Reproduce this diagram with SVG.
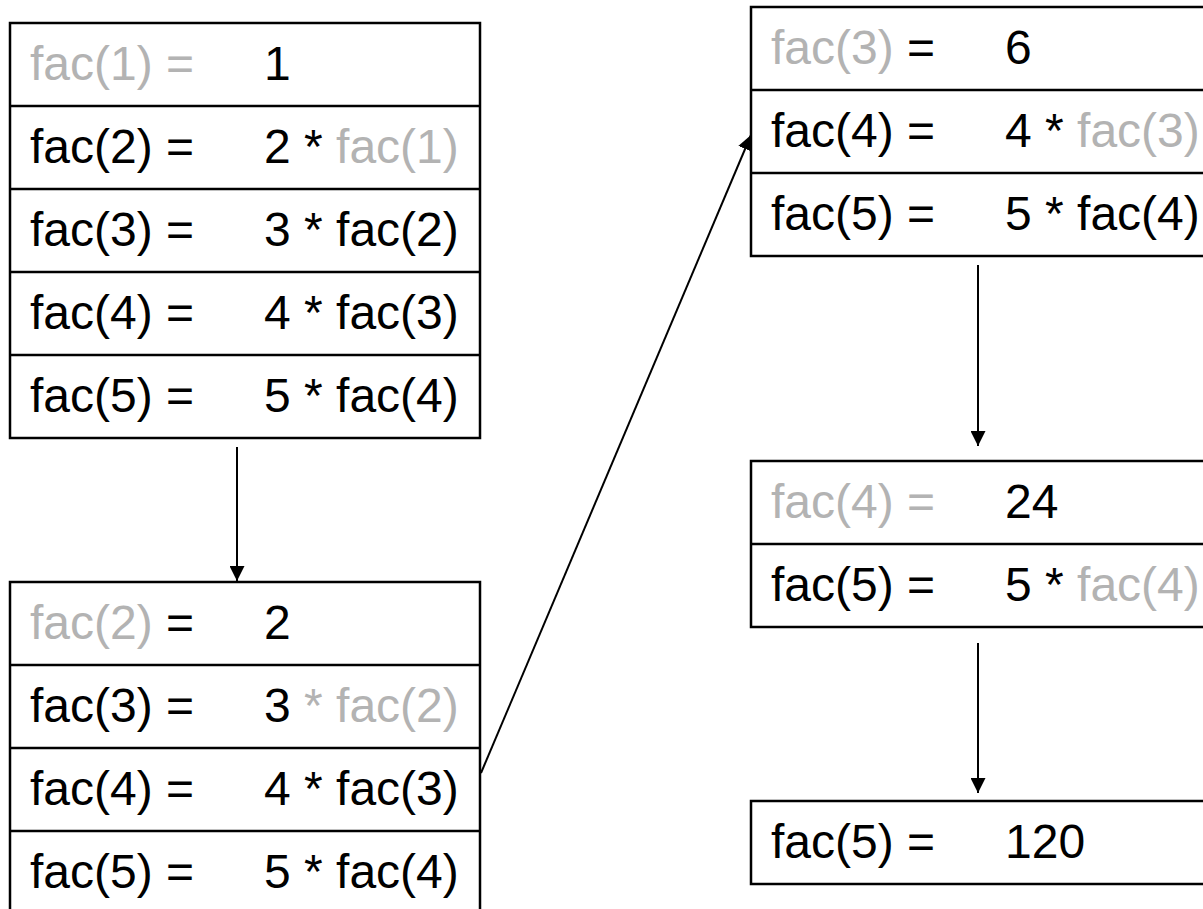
<svg xmlns="http://www.w3.org/2000/svg" width="1203" height="909" viewBox="0 0 1203 909">
<style>
.box{fill:#fff;stroke:#000;stroke-width:2.5}
.row{stroke:#000;stroke-width:2.5}
text{font-family:"Liberation Sans",Arial,sans-serif;font-size:48px;fill:#000}
.g{fill:#b3b3b3}
.conn{stroke:#000;stroke-width:2;fill:none}
</style>
<defs>
<marker id="arr" markerWidth="15" markerHeight="15" refX="15" refY="7.5" orient="auto" markerUnits="userSpaceOnUse">
<path d="M0,0 L15,7.5 L0,15 Z" fill="#000"/>
</marker>
</defs>
<rect width="1203" height="909" fill="#fff"/>
<g id="stack1">
<rect class="box" x="10" y="23" width="470" height="415"/>
<line class="row" x1="10" y1="106" x2="480" y2="106"/>
<line class="row" x1="10" y1="189" x2="480" y2="189"/>
<line class="row" x1="10" y1="272" x2="480" y2="272"/>
<line class="row" x1="10" y1="355" x2="480" y2="355"/>
<text x="30" y="80" class="g">fac(1) =</text><text x="264" y="80">1</text>
<text x="30" y="163">fac(2) =</text><text x="264" y="163">2 * <tspan class="g">fac(1)</tspan></text>
<text x="30" y="246">fac(3) =</text><text x="264" y="246">3 * fac(2)</text>
<text x="30" y="329">fac(4) =</text><text x="264" y="329">4 * fac(3)</text>
<text x="30" y="412">fac(5) =</text><text x="264" y="412">5 * fac(4)</text>
</g>
<g id="stack2">
<rect class="box" x="10" y="582" width="470" height="340"/>
<line class="row" x1="10" y1="665" x2="480" y2="665"/>
<line class="row" x1="10" y1="748" x2="480" y2="748"/>
<line class="row" x1="10" y1="831" x2="480" y2="831"/>
<text x="30" y="639"><tspan class="g">fac(2)</tspan> =</text><text x="264" y="639">2</text>
<text x="30" y="722">fac(3) =</text><text x="264" y="722">3 <tspan class="g">* fac(2)</tspan></text>
<text x="30" y="805">fac(4) =</text><text x="264" y="805">4 * fac(3)</text>
<text x="30" y="888">fac(5) =</text><text x="264" y="888">5 * fac(4)</text>
</g>
<g id="stack3">
<rect class="box" x="751" y="7" width="470" height="249"/>
<line class="row" x1="751" y1="90" x2="1221" y2="90"/>
<line class="row" x1="751" y1="173" x2="1221" y2="173"/>
<text x="771" y="64"><tspan class="g">fac(3)</tspan> =</text><text x="1005" y="64">6</text>
<text x="771" y="147">fac(4) =</text><text x="1005" y="147">4 * <tspan class="g">fac(3)</tspan></text>
<text x="771" y="230">fac(5) =</text><text x="1005" y="230">5 * fac(4)</text>
</g>
<g id="stack4">
<rect class="box" x="751" y="461" width="470" height="166"/>
<line class="row" x1="751" y1="544" x2="1221" y2="544"/>
<text x="771" y="518" class="g">fac(4) =</text><text x="1005" y="518">24</text>
<text x="771" y="601">fac(5) =</text><text x="1005" y="601">5 * <tspan class="g">fac(4)</tspan></text>
</g>
<g id="stack5">
<rect class="box" x="751" y="801" width="470" height="83"/>
<text x="771" y="858">fac(5) =</text><text x="1005" y="858">120</text>
</g>
<g id="connectors">
<line class="conn" x1="237" y1="447" x2="237" y2="581" marker-end="url(#arr)"/>
<line class="conn" x1="481" y1="773" x2="751" y2="135" marker-end="url(#arr)"/>
<line class="conn" x1="978" y1="265" x2="978" y2="446" marker-end="url(#arr)"/>
<line class="conn" x1="978" y1="643" x2="978" y2="793" marker-end="url(#arr)"/>
</g>
</svg>
